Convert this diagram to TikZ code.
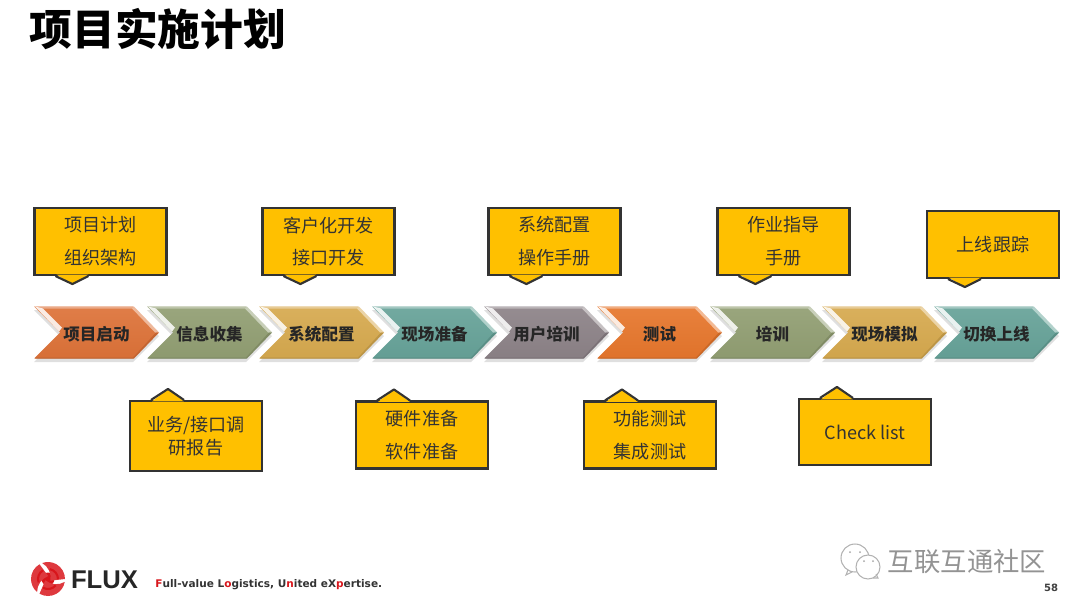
\documentclass[tikz,border=0pt]{standalone}
\usepackage{fontspec}
\usepackage{xcolor}
\usetikzlibrary{shapes.symbols,shadows,calc}
\setmainfont{Liberation Sans}
\newfontfamily\cjk{Noto Sans CJK SC}
\newfontfamily\tagfont{DejaVu Sans}
\definecolor{notegold}{HTML}{FFC000}
\definecolor{planorange}{HTML}{DD7238}
\definecolor{planolive}{HTML}{919E72}
\definecolor{plangold}{HTML}{D6A94E}
\definecolor{planteal}{HTML}{66A298}
\definecolor{plangrey}{HTML}{8C8287}
\definecolor{testorange}{HTML}{E6762C}
\definecolor{logored}{HTML}{D8161C}
\tikzset{
    chevron/.style={signal, signal to=east, signal from=west, signal pointer angle=90,
        minimum width=2.5cm, minimum height=1.04cm, inner sep=0pt,
        top color=#1!92!white, bottom color=#1!97!black,
        drop shadow={shadow xshift=0pt, shadow yshift=-2pt, opacity=0.25}},
    chevlabel/.style={text height=9pt, text depth=0pt,
        font=\cjk\bfseries\fontsize{9.4}{11}\selectfont, text=black!85},
    note/.style={rectangle, draw=black!80, line width=1.2pt, fill=notegold,
        minimum width=2.64cm, inner sep=0pt,
        align=center, text=black!80, font=\cjk\fontsize{10.3}{18.7}\selectfont},
    noteline/.style={draw=black!80, line width=1.2pt, line join=round}
}
\begin{document}
\begin{tikzpicture}[x=0.02cm, y=-0.02cm]
    \useasboundingbox (0,0) rectangle (1080,609);

    % Title
    \node[font=\cjk\bfseries\fontsize{24.3}{26}\selectfont] (title) at (158,29) {项目实施计划};

    % Chevrons
    \node[chevron=planorange] (start) at (96.5,332.5) {};
    \node[chevron=planolive] (collect) at (209.5,332.5) {};
    \node[chevron=plangold] (config) at (321.5,332.5) {};
    \node[chevron=planteal] (site) at (434.5,332.5) {};
    \node[chevron=plangrey] (train) at (546.5,332.5) {};
    \node[chevron=testorange] (test) at (659.5,332.5) {};
    \node[chevron=planolive] (trainb) at (772.5,332.5) {};
    \node[chevron=plangold] (mock) at (884.5,332.5) {};
    \node[chevron=planteal] (golive) at (996.5,332.5) {};

    % Bevel of the chevrons
    \foreach \nm/\clr in {start/planorange,collect/planolive,config/plangold,site/planteal,train/plangrey,test/testorange,trainb/planolive,mock/plangold,golive/planteal} {
        \begin{scope}[shift={($(\nm.center)+(-62.5,-26)$)}]
            \fill[\clr!60!white] (0,0) -- (100,0) -- (98,2) -- (6,2) -- cycle;
            \fill[\clr!50!white] (100,0) -- (125,26) -- (121,26) -- (98,2) -- cycle;
            \fill[white, opacity=0.85] (1,0) -- (9,2) -- (28,21) -- (25,25) -- cycle;
            \fill[\clr!85!black] (1,52) -- (100,52) -- (99,51) -- (2,51) -- cycle;
            \fill[\clr!88!black] (125,26) -- (100,52) -- (99,51) -- (122,26) -- cycle;
        \end{scope}
    }

    % Chevron labels
    \node[chevlabel] (startlabel) at (start) {项目启动};
    \node[chevlabel] (collectlabel) at (collect) {信息收集};
    \node[chevlabel] (configlabel) at (config) {系统配置};
    \node[chevlabel] (sitelabel) at (site) {现场准备};
    \node[chevlabel] (trainlabel) at (train) {用户培训};
    \node[chevlabel] (testlabel) at (test) {测试};
    \node[chevlabel] (trainblabel) at (trainb) {培训};
    \node[chevlabel] (mocklabel) at (mock) {现场模拟};
    \node[chevlabel] (golivelabel) at (golive) {切换上线};

    % Notes above the chevrons
    \node[note, minimum height=1.34cm] (planbox) at (100.5,241.5) {项目计划\\组织架构};
    \node[note, minimum height=1.34cm] (devbox) at (328.5,241.5) {客户化开发\\接口开发};
    \node[note, minimum height=1.34cm] (manualbox) at (554.5,241.5) {系统配置\\操作手册};
    \node[note, minimum height=1.34cm] (guidebox) at (783.5,241.5) {作业指导\\手册};
    \node[note, minimum height=1.34cm] (trackbox) at (993,244.5) {上线跟踪};

    % Notes below the chevrons
    \node[note, minimum height=1.4cm, font=\cjk\fontsize{10.3}{13}\selectfont] (reportbox) at (196,436) {业务/接口调\\研报告};
    \node[note, minimum height=1.34cm] (hardbox) at (422,435) {硬件准备\\软件准备};
    \node[note, minimum height=1.34cm] (funcbox) at (650,435) {功能测试\\集成测试};
    \node[note, minimum height=1.32cm] (checkbox) at (865,432) {Check list};

    % Pointers of the notes
    \foreach \nm in {planbox,devbox,manualbox,guidebox,trackbox} {
        \fill[notegold] ($(\nm.south west)+(23,-1.5)$) -- ++(16,10) -- ++(16,-10) -- cycle;
        \draw[noteline] ($(\nm.south west)+(22,0)$) -- ++(17,8) -- ++(16,-8);
    }
    \foreach \nm in {reportbox,hardbox,funcbox,checkbox} {
        \fill[notegold] ($(\nm.north west)+(23,1.5)$) -- ++(16,-12.5) -- ++(16,12.5) -- cycle;
        \draw[noteline] ($(\nm.north west)+(22,0)$) -- ++(17,-11) -- ++(16,11);
    }

    % Logo
    \fill[logored] (48,579) circle (6.5);
    \foreach \ang in {0,120,240} {
        \fill[logored!85, rotate around={\ang:(48,579)}] (65,579) arc[start angle=0, end angle=-110, radius=17]
            arc[start angle=-60, end angle=10, radius=17] -- cycle;
        \draw[logored, line width=1.2pt, rotate around={\ang:(48,579)}] (58,579) arc[start angle=0, end angle=-80, radius=10];
    }
    \node[font=\bfseries\fontsize{14.6}{16}\selectfont, text=black!85] (flux) at (104.5,580) {FLUX};
    \node[anchor=west, inner sep=0pt, font=\tagfont\bfseries\fontsize{6}{7}\selectfont, text=black!80] (slogan) at (155,585)
        {\textcolor{logored}{F}ull-value L\textcolor{logored}{o}gistics, U\textcolor{logored}{n}ited eX\textcolor{logored}{p}ertise.};

    % Watermark
    \draw[gray!60, fill=white, line width=0.6pt] (855,558) circle (14);
    \draw[gray!60, fill=white, line width=0.6pt] (868,567) circle (12);
    \draw[gray!60, line width=0.6pt] (848,570) -- (846,575) -- (852,572);
    \draw[gray!60, line width=0.6pt] (873,578) -- (878,578) -- (876,574);
    \fill[gray!70] (850,552) circle (1) (860,552) circle (1) (864,561) circle (1) (873,561) circle (1);
    \node[font=\cjk\fontsize{15}{16}\selectfont, text=gray!85] (wechat) at (967,562) {互联互通社区};

    % Page number
    \node[font=\tagfont\bfseries\fontsize{5.7}{6}\selectfont, text=black!75] (pagenum) at (1051,588) {58};
\end{tikzpicture}
\end{document}
